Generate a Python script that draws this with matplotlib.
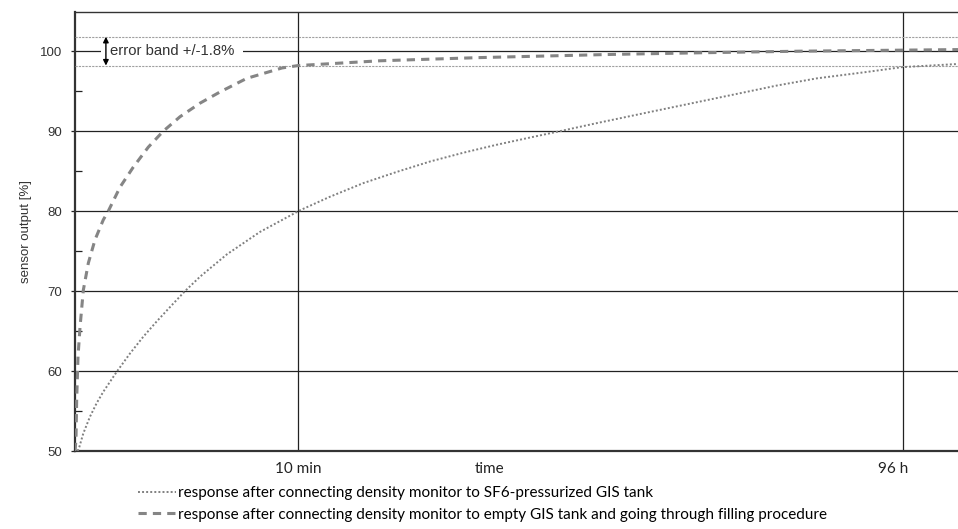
import matplotlib.pyplot as plt
from matplotlib.ticker import MultipleLocator

# time axis is unitless (0 = connect, 100 = right edge of chart)
t_pressurized = [0.3, 0.49, 0.94, 1.70, 2.46, 3.20, 4.72, 6.23, 7.74, 9.25, 10.76,
                 12.46, 14.16, 17.21, 20.95, 25.48, 28.88, 32.65, 36.43, 40.20,
                 43.97, 47.76, 51.53, 54.93, 59.08, 65.12, 70.78, 76.44, 79.47,
                 84.0, 89.66, 93.62, 100]
out_pressurized = [50, 50.5, 52.2, 54.3, 56.0, 57.4, 59.9, 62.2, 64.3, 66.2, 68.0,
                   70.0, 71.8, 74.6, 77.4, 80.1, 81.8, 83.5, 84.9, 86.2,
                   87.3, 88.3, 89.2, 90.0, 91.0, 92.4, 93.7, 95.0, 95.7,
                   96.6, 97.4, 98.0, 98.4]

t_filling = [0, 0.11, 0.19, 0.34, 0.57, 0.94, 1.51, 2.26, 3.20, 3.77, 5.10, 6.60,
             8.30, 10.0, 11.89, 14.16, 16.42, 19.45, 23.44, 25.25, 34.54, 45.87,
             60.93, 70.78, 82.11, 100]
out_filling = [50, 51.4, 56.4, 61.8, 65.5, 70.1, 73.5, 76.4, 78.9, 80.0, 83.0, 85.5,
               88.0, 90.0, 91.8, 93.5, 94.9, 96.6, 97.9, 98.2, 98.8, 99.2,
               99.6, 99.8, 100, 100.2]

error_band = 1.8
marks_x = [25.25, 93.77]
marks_labels = ['10 min', '96 h']

fig = plt.figure(figsize=(9.58, 5.29), dpi=100)
ax = fig.add_axes([75 / 958, 78 / 529, 1 - 75 / 958, 439 / 529])

ax.set_xlim(0, 100)
ax.set_ylim(50, 104.9)

ax.plot(t_pressurized, out_pressurized, color='#808080', lw=1.4,
        linestyle=(0, (1, 1.1)), zorder=3,
        label='response after connecting density monitor to SF6-pressurized GIS tank')
ax.plot(t_filling, out_filling, color='#858585', lw=2.2,
        linestyle=(0, (2.7, 2.0)), zorder=3,
        label='response after connecting density monitor to empty GIS tank and going through filling procedure')

# error band
for y in (100 + error_band, 100 - error_band):
    ax.axhline(y, color='#a0a0a0', lw=0.8, linestyle=(0, (2, 1)), zorder=2.6)

ax.text(3.95, 100, 'error band +/-1.8%', fontsize=10.7, color='#333333',
        family='Liberation Sans', va='center', ha='left', zorder=2.5,
        bbox=dict(boxstyle='square,pad=0.6', fc='white', ec='none'))
ax.annotate('', xy=(3.5, 100 + error_band), xytext=(3.5, 100 - error_band),
            arrowprops=dict(arrowstyle='<|-|>', color='black', lw=1,
                            mutation_scale=8, shrinkA=0, shrinkB=0), zorder=4)

# grid
ax.yaxis.set_major_locator(MultipleLocator(10))
ax.yaxis.set_minor_locator(MultipleLocator(5))
ax.grid(axis='y', which='major', color='#222222', lw=0.9, zorder=1)
for x in marks_x:
    ax.axvline(x, color='#222222', lw=0.9, zorder=1)

ax.set_xticks([])
ax.tick_params(axis='y', which='major', direction='out', length=3, width=0.9,
               color='#222222', labelsize=9.5, labelcolor='#333333', pad=6)
ax.tick_params(axis='y', which='minor', direction='in', length=5, width=0.9,
               color='#222222')
for lbl in ax.get_yticklabels():
    lbl.set_family('Liberation Sans')

ax.spines['right'].set_visible(False)
ax.spines['left'].set_linewidth(1.6)
ax.spines['bottom'].set_linewidth(1.6)
ax.spines['top'].set_linewidth(1.0)
for s in ('left', 'bottom', 'top'):
    ax.spines[s].set_color('#333333')

ax.set_ylabel('sensor output [%]', fontsize=9.5, family='Liberation Sans',
              color='#333333', labelpad=6)

# x labels below the axis
xtr = ax.get_xaxis_transform()
ax.text(marks_x[0], -0.04, marks_labels[0], transform=xtr, ha='center', va='center',
        fontsize=11, family='Lato', color='#222222')
ax.text(marks_x[1] - 1.1, -0.04, marks_labels[1], transform=xtr, ha='center', va='center',
        fontsize=11, family='Lato', color='#222222')
ax.text(47.0, -0.04, 'time', transform=xtr, ha='center', va='center',
        fontsize=11, family='Lato', color='#222222')

ax.legend(loc='upper left', bbox_to_anchor=(138 / 958, 1 - 486 / 529),
          bbox_transform=fig.transFigure, frameon=False, handlelength=2.5,
          handletextpad=0.1, labelspacing=0.5, borderpad=0, borderaxespad=0,
          prop={'family': 'Lato', 'size': 11})

fig.savefig('out.png', dpi=100)
